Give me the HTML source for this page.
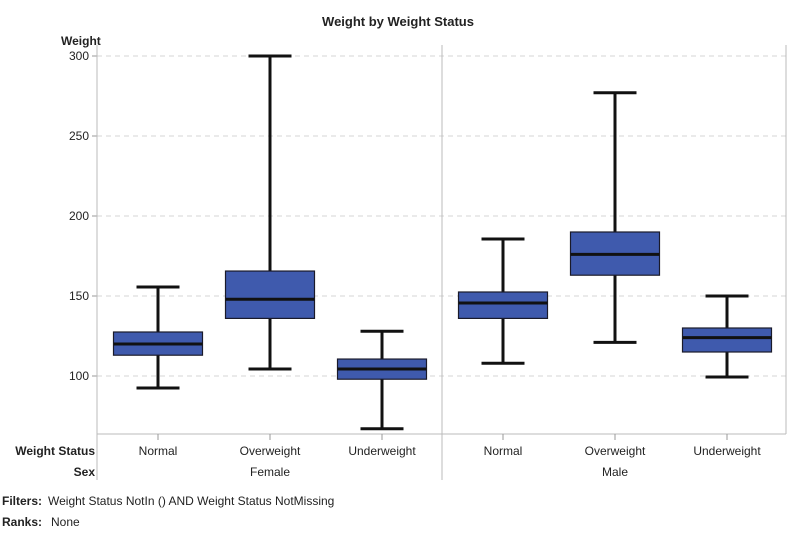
<!DOCTYPE html>
<html><head><meta charset="utf-8"><style>
body{margin:0;background:#fff;}
svg text{font-family:"Liberation Sans",Arial,sans-serif;fill:#222;}
</style></head><body>
<svg id="chart" width="798" height="533" xmlns="http://www.w3.org/2000/svg">
<text x="398" y="26" text-anchor="middle" font-size="13" font-weight="bold">Weight by Weight Status</text>
<text x="61" y="45" font-size="12" font-weight="bold">Weight</text>
<g id="grid"></g><g id="marks"></g><g id="axes"></g>
<text x="95" y="455" text-anchor="end" font-size="12" font-weight="bold">Weight Status</text>
<text x="95" y="476" text-anchor="end" font-size="12" font-weight="bold">Sex</text>
<text x="2" y="505" font-size="12"><tspan font-weight="bold">Filters:</tspan><tspan x="48">Weight Status NotIn () AND Weight Status NotMissing</tspan></text>
<text x="2" y="526" font-size="12"><tspan font-weight="bold">Ranks:</tspan><tspan x="51">None</tspan></text>
</svg>
<script>
const groups=["Female","Male"];
const categories=["Normal","Overweight","Underweight"];
const minVals=[92.5,104.4,67,108,121,99.4];
const q1Vals=[113,136,98,136,163,115];
const medianVals=[120,148,104.4,145.6,176,124];
const q3Vals=[127.5,165.6,110.6,152.5,190,130];
const maxVals=[155.6,300,128,185.6,277,150];
const yTicks=[100,150,200,250,300];

const NS="http://www.w3.org/2000/svg";
const L=97,R=786,T=45,B=434,DIV=442;
const y=v=>376-(v-100)*1.6;
const panelStarts=[L,DIV];
const xc=i=>{const p=Math.floor(i/3),c=i%3;return panelStarts[p]+61+112*c;};
function mk(tag,attrs,parent){const e=document.createElementNS(NS,tag);for(const k in attrs)e.setAttribute(k,attrs[k]);document.getElementById(parent).appendChild(e);return e;}
yTicks.forEach(t=>{
  const g=mk('line',{x1:L,x2:R,y1:y(t),y2:y(t),stroke:'#d4d4d4','stroke-dasharray':'5,4'},'grid');
  
  
  const tk=mk('line',{x1:L-5,x2:L,y1:y(t),y2:y(t),stroke:'#999'},'axes');
  
  
  const lb=mk('text',{x:L-8,y:y(t)+4,'text-anchor':'end','font-size':12},'axes');
  lb.textContent=t;
  
  
});
[[L,T,L,480],[DIV,T,DIV,480],[R,T,R,B],[L,B,R,B]].forEach((c,k)=>{
  const l=mk('line',{x1:c[0],y1:c[1],x2:c[2],y2:c[3],stroke:'#bbb'},'axes');
  
  
});
groups.forEach((g,p)=>{
  const t=mk('text',{x:xc(p*3+1),y:476,'text-anchor':'middle','font-size':12},'axes');
  t.textContent=g;
  
  
});
minVals.forEach((_,i)=>{
  const cx=xc(i),bw=89,cw=43,nm=groups[Math.floor(i/3)].toLowerCase()+'-'+categories[i%3].toLowerCase();
  const tk=mk('line',{x1:cx,x2:cx,y1:B,y2:B+6,stroke:'#999'},'axes');
  
  
  const lb=mk('text',{x:cx,y:455,'text-anchor':'middle','font-size':12},'axes');
  lb.textContent=categories[i%3];
  
  
  const w=mk('line',{x1:cx,x2:cx,y1:y(maxVals[i]),y2:y(minVals[i]),stroke:'#111','stroke-width':3},'marks');
  
  
  [maxVals[i],minVals[i]].forEach((v,k)=>{
    const c=mk('line',{x1:cx-cw/2,x2:cx+cw/2,y1:y(v),y2:y(v),stroke:'#111','stroke-width':3},'marks');
    
    
  });
  const b=mk('rect',{x:cx-bw/2,y:y(q3Vals[i]),width:bw,height:y(q1Vals[i])-y(q3Vals[i]),fill:'#3f5aad',stroke:'#1a1a2a','stroke-width':1.2},'marks');
  
  
  const m=mk('line',{x1:cx-bw/2,x2:cx+bw/2,y1:y(medianVals[i]),y2:y(medianVals[i]),stroke:'#111','stroke-width':3},'marks');
  
  
});
</script>
</body></html>
